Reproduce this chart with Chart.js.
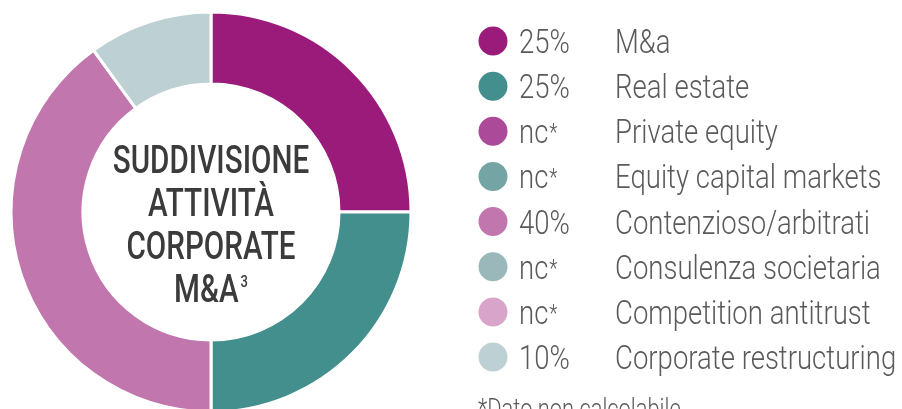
<!DOCTYPE html>
<html lang="it">
<head>
<meta charset="utf-8">
<script src="https://cdn.jsdelivr.net/npm/chart.js@4"></script>
<style>
  html, body { margin: 0; padding: 0; background: #fff; overflow: hidden; }
  #box { position: absolute; left: 0; top: 0; width: 902px; height: 420px; }
</style>
</head>
<body>
<div id="box"><canvas id="grafico" width="902" height="420"></canvas></div>
<script>
// dati
const categorie = ["M&a", "Real estate", "Private equity", "Equity capital markets",
  "Contenzioso/arbitrati", "Consulenza societaria", "Competition antitrust", "Corporate restructuring"];
const valori = [25, 25, null, null, 40, null, null, 10];
const etichetteValori = ["25%", "25%", "nc*", "nc*", "40%", "nc*", "nc*", "10%"];
const colori = ["#9b1b7b", "#438f8e", "#ab4a98", "#74a4a4", "#c177ae", "#9ab8b9", "#d8a4ca", "#bdd0d3"];
const titoloCentro = ["SUDDIVISIONE", "ATTIVITÀ", "CORPORATE", "M&A"];
const apice = "3";
const notaPiede = "*Dato non calcolabile";

function testoStretto(ctx, testo, x, y, sx, align) {
  ctx.save();
  ctx.translate(x, y);
  ctx.scale(sx, 1);
  ctx.textAlign = align || "left";
  ctx.fillText(testo, 0, 0);
  ctx.restore();
}

const pluginTesti = {
  id: "testi",
  afterDraw(chart) {
    const ctx = chart.ctx;
    const arc = chart.getDatasetMeta(0).data[0];
    const cx = arc.x, cy = arc.y;

    // titolo al centro
    ctx.fillStyle = "#3b3b3b";
    ctx.textBaseline = "alphabetic";
    ctx.font = "500 39px Roboto";
    const sxC = 0.76;
    titoloCentro.forEach((riga, i) => {
      const y = cy - 39 + i * 43;
      if (i === titoloCentro.length - 1) {
        const w = ctx.measureText(riga).width * sxC;
        ctx.font = "500 17px Roboto";
        const wa = ctx.measureText(apice).width * sxC;
        const x0 = cx - (w + wa + 2) / 2;
        ctx.font = "500 39px Roboto";
        testoStretto(ctx, riga, x0, y, sxC, "left");
        ctx.font = "500 17px Roboto";
        testoStretto(ctx, apice, x0 + w + 2, y - 15, sxC, "left");
        ctx.font = "500 39px Roboto";
      } else {
        testoStretto(ctx, riga, cx, y, sxC, "center");
      }
    });

    // legenda
    const sxL = 0.81;
    categorie.forEach((nome, i) => {
      const y = 41 + i * 45.15;
      ctx.fillStyle = colori[i];
      ctx.beginPath();
      ctx.arc(493, y, 14.5, 0, Math.PI * 2);
      ctx.fill();
      ctx.fillStyle = "#5a5a5a";
      ctx.font = "300 34px Roboto";
      const v = etichetteValori[i];
      if (v.endsWith("*")) {
        const base = v.slice(0, -1);
        testoStretto(ctx, base, 519, y + 12, sxL, "left");
        const wb = ctx.measureText(base).width * sxL;
        ctx.font = "300 24px Roboto";
        testoStretto(ctx, "*", 519 + wb + 1, y + 9, sxL, "left");
        ctx.font = "300 34px Roboto";
      } else {
        testoStretto(ctx, v, 519, y + 12, sxL, "left");
      }
      testoStretto(ctx, nome, 615, y + 12, sxL, "left");
    });

    ctx.fillStyle = "#5a5a5a";
    ctx.font = "300 27px Roboto";
    testoStretto(ctx, notaPiede, 478, 418, sxL, "left");
  }
};

new Chart(document.getElementById("grafico"), {
  type: "doughnut",
  data: {
    labels: categorie,
    datasets: [{
      data: valori,
      backgroundColor: colori,
      borderColor: "#ffffff",
      borderWidth: 3,
      hoverOffset: 0,
    }],
  },
  options: {
    responsive: false,
    animation: false,
    devicePixelRatio: 1,
    radius: 200,
    cutout: "64%",
    layout: { padding: { left: 11, right: 491, top: 12, bottom: 8 } },
    plugins: {
      legend: { display: false },
      tooltip: { enabled: false },
    },
  },
  plugins: [pluginTesti],
});
</script>
</body>
</html>
